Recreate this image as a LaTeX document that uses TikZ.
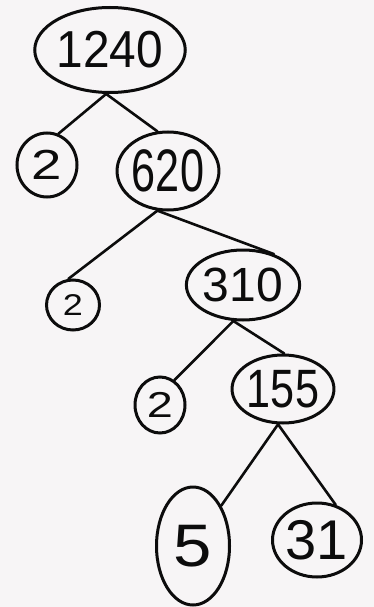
\documentclass[tikz,border=0pt]{standalone}
\usepackage{fontspec}
\setmainfont{Liberation Sans}
\usetikzlibrary{shapes.geometric}
\definecolor{paper}{RGB}{247,245,246}
\definecolor{ink}{RGB}{12,12,12}
\tikzset{
  fnode/.style={ellipse, draw=ink, line width=3pt, inner sep=0pt, text=ink},
  edge/.style={draw=ink, line width=2.6pt, line cap=round}
}
\newcommand{\dg}[3]{\fontsize{#1}{#1}\selectfont\scalebox{#2}[1]{#3}}
\begin{document}
\begin{tikzpicture}[x=1pt,y=-1pt]
\fill[paper] (0,0) rectangle (374,607);
\useasboundingbox (0,0) rectangle (374,607);
\node[fnode, minimum width=135pt, minimum height=85pt] (n1240) at (110,50) {\dg{52}{0.92}{1240}};
\node[fnode, minimum width=60pt, minimum height=64pt] (n2a) at (47,165) {\dg{42}{1.3}{2}};
\node[fnode, minimum width=97pt, minimum height=78pt] (n620) at (168,171) {\dg{60}{0.72}{620}};
\node[fnode, minimum width=53pt, minimum height=50pt] (n2b) at (73,305) {\dg{30}{1.2}{2}};
\node[fnode, minimum width=85pt, minimum height=70pt] (n310) at (243,285) {\dg{48}{1}{310}};
\node[fnode, minimum width=50pt, minimum height=56pt] (n2c) at (160,405) {\dg{36}{1.3}{2}};
\node[fnode, minimum width=83pt, minimum height=68pt] (n155) at (283,389) {\dg{54}{0.8}{155}};
\node[fnode, minimum width=73pt, minimum height=118pt] (n5) at (193,546) {\dg{60}{1.15}{5}};
\node[fnode, minimum width=89pt, minimum height=74pt] (n31) at (317,540) {\dg{56}{1}{31}};
\draw[edge] (n1240.265) -- (n2a.70);
\draw[edge] (n1240.265) -- (n620.105);
\draw[edge] (n620.255) -- (n2b.100);
\draw[edge] (n620.255) -- (n310.45);
\draw[edge] (n310.255) -- (n2c.60);
\draw[edge] (n310.255) -- (n155.88);
\draw[edge] (n155.262) -- (n5.55);
\draw[edge] (n155.262) -- (n31.62);
\end{tikzpicture}
\end{document}
